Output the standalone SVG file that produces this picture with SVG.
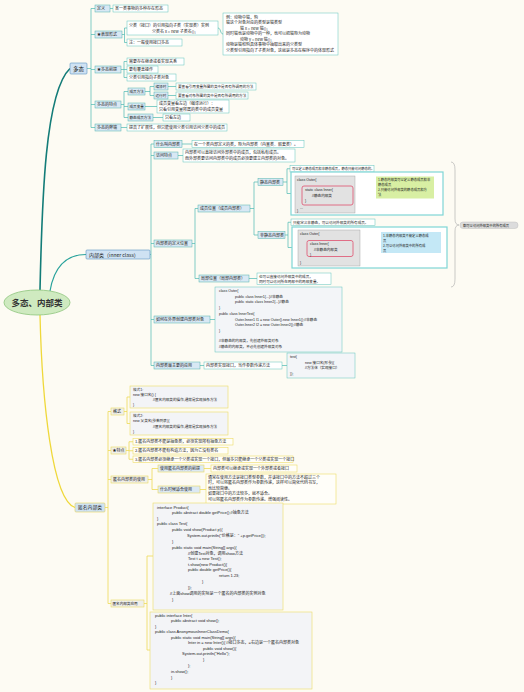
<svg xmlns="http://www.w3.org/2000/svg" width="524" height="692" viewBox="0 0 524 692">
<style>
text{font-family:"Noto Sans CJK SC","Liberation Sans",sans-serif;font-size:4px;fill:#222}
.c{font-family:"Liberation Sans","Noto Sans CJK SC",sans-serif;font-size:4px}
.s{font-size:3.6px}
.xs{font-size:3.3px}
.m{text-anchor:middle}
.n1{fill:#cfe2f3;stroke:#5d93c2;stroke-width:.6}
.n2{fill:#d8e8f4;stroke:#4fb3ad;stroke-width:.5}
.lf{fill:#fff;stroke:#5fc4bd;stroke-width:.5}
.cb{fill:#f3f5f8;stroke:#5fc4bd;stroke-width:.5}
.fr{fill:#fff;stroke:#7fd6d6;stroke-width:1.2}
.gr{fill:#e2e2e2;stroke:#9a9a9a;stroke-width:.4}
.rd{fill:none;stroke:#e0506e;stroke-width:.8}
.y1{fill:#cfe2f3;stroke:#e6d35a;stroke-width:.6}
.y2{fill:#efefeb;stroke:#ecd95e;stroke-width:.6}
.yb{fill:#dce9f4;stroke:#ecd95e;stroke-width:.6}
.yl{fill:#fffef9;stroke:#eedc66;stroke-width:.6}
.yk{fill:#f3f4f7;stroke:#eedc66;stroke-width:.6}
.ct{fill:none;stroke:#4cb9b1;stroke-width:.7}
.cy{fill:none;stroke:#eedb55;stroke-width:.8}
</style>
<defs>
<marker id="ar" viewBox="0 0 6 6" refX="5" refY="3" markerWidth="4" markerHeight="4" orient="auto"><path d="M0,0 L6,3 L0,6 z" fill="#e0506e"/></marker>
</defs>
<rect x="0" y="0" width="524" height="692" fill="#fdfbf3"/>

<g id="connectors">
<path d="M40 290 C42 200 45 92 70 68.5" fill="none" stroke="#137c78" stroke-width="1.6"/>
<path d="M50 291 C54 268 66 254.5 86 254.5" fill="none" stroke="#2aa39c" stroke-width="1.2"/>
<path d="M40 315 C42 400 52 500 75 507.5" fill="none" stroke="#efd83a" stroke-width="1.3"/>
<path class="ct" d="M87 68.5H91 M91 8.5V127.5 M91 8.5H95 M91 34.5H95 M91 69.5H95 M91 104.5H95 M91 127.5H95
M110 8.5H113
M122 34.5H124.5 M124.5 28V42.5 M124.5 28H127 M124.5 42.5H127
M218 28C221 28 220 34 223 34
M121 69.5H124 M124 61.5V77.5 M124 61.5H127 M124 69.5H127 M124 77.5H127
M121 104.5H124 M124 91.5V117.5 M124 91.5H128 M124 106.5H128 M124 117.5H128
M145 91.5H150 M150 86.5V95.5 M150 86.5H154 M150 95.5H154
M168 86.5H176 M168 95.5H176
M145 106.5H157
M153 117.5H163
M121 127.5H127"/>
<path class="ct" d="M150 254.5H151 M151 144V365.5 M151 144H154 M151 155.5H154 M151 243.5H154 M151 319.5H154 M151 365.5H154
M182 144H192
M178 155.5H183
M192 243.5H195 M195 208.5V278.5 M195 208.5H198 M195 278.5H199
M250 208.5H254 M254 182V235 M254 182H258 M254 235H258
M283 182H287 M287 168.75V193.5 M287 168.75H290 M287 193.5H291
M285 235H288 M288 222.25V247.5 M288 222.25H291 M288 247.5H292
M249 278.5H257
M210 319.5H215
M200 365.5H204 M282 365.5H287"/>
<path class="cy" d="M105 507.5H108 M108 411.5V603.5 M108 411.5H111 M108 450.5H111 M108 479.5H111 M108 603.5H111
M124 411.5H127 M127 397V423.5 M127 397H130 M127 423.5H130
M126 450.5H129 M129 441.75V459.25 M129 441.75H133 M129 450.75H133 M129 459.25H133
M148 479.5H152 M152 468.5V489.5 M152 468.5H158 M152 489.5H158
M204 468.5H211 M200 489.5H206
M144 603.5H147 M147 556V650 M147 556H153 M147 650H150"/>
<path class="rd" d="M353 195 C362 196 361 181 371 180" marker-end="url(#ar)"/>
<path class="rd" d="M353 249 C362 250 364 234 376 232" marker-end="url(#ar)"/>
</g>

<g id="root">
<ellipse cx="37" cy="302.5" rx="33" ry="12.5" fill="#cfeac0" stroke="#8cc47a" stroke-width=".8"/>
<text class="m" x="37" y="305.5" style="font-size:8.5px;font-weight:bold;fill:#333">多态、内部类</text>
</g>

<g id="duotai">
<rect class="n1" x="70" y="63" width="17" height="11" rx="1"/>
<text class="m" x="78.5" y="70.8" style="font-size:5.5px">多态</text>
</g>
<g id="dingyi">
<rect class="n2" x="95" y="5" width="15" height="7"/><text x="97" y="10">定义</text>
<rect class="lf" x="113" y="5" width="55" height="7"/><text x="115" y="10">某一类事物的多种存在形态</text>
</g>
<g id="biaoxian">
<rect class="n2" x="95" y="31" width="27" height="7"/><text x="97" y="36">★表现形式</text>
<rect class="lf" x="127" y="21" width="91" height="14"/>
<text x="129" y="26.5">父类（接口）的引用指向子类（实现类）实例</text>
<text x="152" y="32.5">父类名 x = new 子类名();</text>
<rect class="lf" x="127" y="39" width="55" height="7"/><text x="129" y="44">注：一般使用接口多态</text>
<rect class="lf" x="223" y="13" width="115" height="42"/>
<text x="226" y="18.5">例：动物中猫，狗</text>
<text x="226" y="24">猫这个对象对应的类型是猫类型</text>
<text x="240" y="29.5">猫 x = new 猫();</text>
<text x="226" y="35">同时猫也是动物中的一种，也可以把猫称为动物</text>
<text x="240" y="40.5">动物 y = new 猫();</text>
<text x="226" y="46">动物是猫和狗具体事物中抽取出来的父类型</text>
<text x="226" y="51.5">父类型引用指向了子类对象，这就是多态在程序中的体现形式</text>
</g>
<g id="qianti">
<rect class="n2" x="95" y="66" width="26" height="7"/><text x="97" y="71">★多态前提</text>
<rect class="lf" x="127" y="58" width="57" height="7"/><text x="129" y="63">需要存在继承或者实现关系</text>
<rect class="lf" x="127" y="66" width="31" height="7"/><text x="129" y="71">要有覆盖操作</text>
<rect class="lf" x="127" y="74" width="49" height="7"/><text x="129" y="79">父类引用指向子类对象</text>
</g>
<g id="tedian">
<rect class="n2" x="95" y="101" width="26" height="7"/><text x="97" y="106">多态的特点</text>
<rect class="n2" x="128" y="88" width="17" height="7"/><text class="s" x="129.5" y="92.8">成员方法</text>
<rect class="n2" x="154" y="83" width="14" height="7"/><text class="s" x="155.5" y="87.8">编译时</text>
<rect class="n2" x="154" y="92" width="14" height="7"/><text class="s" x="155.5" y="96.8">运行时</text>
<rect class="lf" x="176" y="83" width="80" height="7"/><text class="s" x="178" y="87.8">要查看引用变量所属的类中是否有所调用的方法</text>
<rect class="lf" x="176" y="92" width="72" height="7"/><text class="s" x="178" y="96.8">要查看对象所属的类中是否有所调用的方法</text>
<rect class="n2" x="128" y="103" width="17" height="7"/><text class="s" x="129.5" y="107.8">成员变量</text>
<rect class="lf" x="157" y="100" width="72" height="13"/>
<text x="159" y="105">成员变量看左边（编译运行）：</text>
<text x="159" y="110.5">只看引用变量所属的类中的成员变量</text>
<rect class="n2" x="128" y="114" width="25" height="7"/><text class="s" x="129.5" y="118.8">静态成员方法</text>
<rect class="lf" x="163" y="114" width="27" height="7"/><text x="165" y="119">只看左边</text>
</g>
<g id="bingduan">
<rect class="n2" x="95" y="124" width="26" height="7"/><text x="97" y="129">多态的弊端</text>
<rect class="lf" x="127" y="124" width="100" height="7"/><text x="129" y="129">提高了扩展性，但只能使用父类引用访问父类中的成员</text>
</g>

<g id="neibulei">
<rect class="n1" x="86" y="250" width="64" height="9" rx="1"/>
<text x="89" y="256.5" style="font-size:5px">内部类（inner class）</text>
</g>
<g id="shenme">
<rect class="n2" x="154" y="140.5" width="28" height="7"/><text x="156" y="145.5">什么叫内部类</text>
<rect class="lf" x="192" y="140.5" width="112" height="7"/><text x="194" y="145.5">在一个类内部定义的类，称为内部类（内置类、嵌套类）。</text>
</g>
<g id="fangwen">
<rect class="n2" x="154" y="152" width="24" height="7"/><text x="156" y="157">访问特点</text>
<rect class="lf" x="183" y="149" width="112" height="13"/>
<text x="185" y="154">内部类可以直接访问外部类中的成员，包括私有成员。</text>
<text x="185" y="159.5">而外部类要访问内部类中的成员必须要建立内部类的对象。</text>
</g>
<g id="weizhi">
<rect class="n2" x="154" y="240" width="38" height="7"/><text x="156" y="245">内部类的定义位置</text>
</g>
<g id="chengyuan">
<rect class="n2" x="198" y="205" width="52" height="7"/><text x="200" y="210">成员位置（成员内部类）</text>
</g>
<g id="jingtai">
<rect class="n2" x="258" y="178.5" width="25" height="7"/><text x="260" y="183.5">静态内部类</text>
<rect class="lf" x="290" y="165.5" width="84" height="6.5"/><text class="xs" x="292" y="170">可以定义静态成员和非静态成员，静态只能访问静态的。</text>
<rect class="fr" x="291" y="172" width="152" height="43"/>
<rect class="gr" x="295" y="176" width="60" height="37"/>
<text class="c s" x="297" y="181">class Outer{</text>
<rect class="rd" x="302" y="186" width="51" height="19" rx="2"/>
<text class="c s" x="305" y="191">static class Inner{</text>
<text class="c s" x="312" y="196.5">//静态内部类</text>
<text class="c s" x="305" y="202">}</text>
<text class="c s" x="300" y="208.5">...</text>
<text class="c s" x="297" y="212">}</text>
<rect x="376" y="176.5" width="58" height="22" fill="#d8efa3"/>
<text class="xs" x="378" y="181">1.静态内部类可以定义静态成员和非</text>
<text class="xs" x="378" y="186">静态成员</text>
<text class="xs" x="378" y="191">2.只能访问外部类的静态成员和方</text>
<text class="xs" x="378" y="196">法</text>
</g>
<g id="feijingtai">
<rect class="n2" x="258" y="231.5" width="27" height="7"/><text x="260" y="236.5">非静态内部类</text>
<rect class="lf" x="291" y="219" width="84" height="6.5"/><text class="s" x="293" y="223.6">只能定义非静态，可以访问外部类的所有成员。</text>
<rect class="fr" x="292" y="227" width="155" height="41"/>
<rect class="gr" x="298" y="230" width="62" height="36"/>
<text class="c s" x="300" y="235">class Outer{</text>
<rect class="rd" x="307" y="240.5" width="46" height="16" rx="2"/>
<text class="c s" x="310" y="245">class Inner{</text>
<text class="c s" x="314" y="250.5">//非静态内部类</text>
<text class="c s" x="310" y="255.5">}</text>
<text class="c s" x="300" y="263.5">}</text>
<rect x="381" y="232" width="60" height="21" fill="#c4e8f6"/>
<text class="xs" x="383" y="236.5">1.非静态内部类不能定义静态成</text>
<text class="xs" x="383" y="241.5">员</text>
<text class="xs" x="383" y="246.5">2.可以访问外部类中的所有成</text>
<text class="xs" x="383" y="251.5">员</text>
</g>
<g id="summary">
<path d="M451 162 Q455 162 455 170 L455 219 Q455 225 459 225 Q455 225 455 231 L455 279 Q455 287 451 287" fill="none" stroke="#aaa" stroke-width=".6"/>
<rect x="460" y="222" width="58" height="6.5" rx="3" fill="#dcdcdc" stroke="#b5b5b5" stroke-width=".4"/>
<text class="xs" x="463" y="226.6">都可以访问外部类中的所有成员</text>
</g>
<g id="jubu">
<rect class="n2" x="199" y="275" width="50" height="7"/><text x="201" y="280">局部位置（局部内部类）</text>
<rect class="lf" x="257" y="273" width="74" height="11.5"/>
<text class="s" x="259" y="277.5">也可以直接访问外部类中的成员，</text>
<text class="s" x="259" y="282.5">同时可以访问所在局部中的局部变量。</text>
</g>
<g id="chuangjian">
<rect class="n2" x="154" y="316" width="56" height="7"/><text x="156" y="321">如何在外界创建内部类对象</text>
<rect class="cb" x="215" y="287" width="127" height="65"/>
<text class="c s" x="219" y="291.5">class Outer{</text>
<text class="c s" x="235" y="297.5">public class Inner1{...}//非静态</text>
<text class="c s" x="235" y="303">public static class Inner2{...}//静态</text>
<text class="c s" x="219" y="308.5">}</text>
<text class="c s" x="219" y="314.5">public class InnerTest{</text>
<text class="c s" x="235" y="320.5">Outer.Inner1 I1 = new Outer().new Inner1();//非静态</text>
<text class="c s" x="235" y="326">Outer.Inner2 I2 = new Outer.Inner2();//静态</text>
<text class="c s" x="219" y="332">}</text>
<text class="c s" x="219" y="342">//非静态的内部类，先创建外部类对象</text>
<text class="c s" x="219" y="347.5">//静态的内部类，不必先创建外部类对象</text>
</g>
<g id="yingyong">
<rect class="n2" x="154" y="362" width="46" height="7"/><text x="156" y="367">内部类最主要的应用</text>
<rect class="lf" x="204" y="362" width="78" height="7"/><text x="206" y="367">内部类实现接口，当作参数传递方法</text>
<rect class="cb" x="287" y="353" width="68" height="25"/>
<text class="c s" x="290" y="358">test(</text>
<text class="c s" x="305" y="363.5">new 接口名(形参){</text>
<text class="c s" x="305" y="369">//方法体（实现接口）</text>
<text class="c s" x="290" y="375">});</text>
</g>

<g id="niming">
<rect class="y1" x="75" y="503" width="30" height="9" rx="1"/>
<text x="78" y="509.3" style="font-size:4.8px">匿名内部类</text>
</g>
<g id="geshi">
<rect class="y2" x="111" y="408" width="13" height="7"/><text x="113" y="413">格式</text>
<rect class="yk" x="130" y="386" width="98" height="22"/>
<text class="c s" x="133" y="390.5">格式1:</text>
<text class="c s" x="133" y="395.5">new 接口名() {</text>
<text class="c s" x="153" y="401">//匿名内部类的操作,通常是实现抽象方法</text>
<text class="c s" x="133" y="406">}</text>
<rect class="yk" x="130" y="412" width="98" height="23"/>
<text class="c s" x="133" y="416.5">格式2:</text>
<text class="c s" x="133" y="422">new 父类名(参数列表){</text>
<text class="c s" x="153" y="427.5">//匿名内部类的操作,通常是实现抽象方法</text>
<text class="c s" x="133" y="433">}</text>
</g>
<g id="tedian2">
<rect class="y2" x="111" y="447" width="15" height="7"/><text x="112.5" y="452">★特点</text>
<rect class="yl" x="133" y="438.5" width="100" height="6.5"/><text x="135" y="443.2">1.匿名内部类不能是抽象类，必须实现所有抽象方法</text>
<rect class="yl" x="133" y="447.5" width="95" height="6.5"/><text x="135" y="452.2">2.匿名内部类不能有构造方法，因为它没有类名</text>
<rect class="yl" x="133" y="456" width="160" height="6.5"/><text x="135" y="460.7">3.匿名内部类必须继承一个父类或实现一个接口，但最多只能继承一个父类或实现一个接口</text>
</g>
<g id="shiyong">
<rect class="y2" x="111" y="476" width="37" height="7"/><text x="113" y="481">匿名内部类的使用</text>
<rect class="yb" x="158" y="465" width="46" height="7"/><text x="160" y="470">使用匿名内部类的前提</text>
<rect class="yl" x="211" y="465" width="86" height="7"/><text x="213" y="470">内部类可以继承或实现一个外部类或者接口</text>
<rect class="yb" x="158" y="486" width="42" height="7"/><text x="160" y="491">什么时候适合使用</text>
<rect class="yl" x="206" y="474" width="130" height="30"/>
<text x="208" y="478.8">通常在使用方法是接口类型参数，并该接口中的方法不超过三个</text>
<text x="208" y="484.3">时，可以将匿名内部类作为参数传递，这样可以简化代码书写，</text>
<text x="208" y="489.8">也比较简便。</text>
<text x="208" y="495.3">如果接口中的方法较多，就不适合。</text>
<text x="208" y="500.8">可以将匿名内部类作为参数传递。增强阅读性。</text>
</g>
<g id="juli">
<rect class="y2" x="111" y="600" width="33" height="7"/><text class="s" x="112.5" y="604.8">匿名内部类应用</text>
<rect class="yk" x="153" y="503" width="130" height="107"/>
<text class="c" x="157" y="508.5">interface Product{</text>
<text class="c" x="172" y="514">public abstract double getPrice();//抽象方法</text>
<text class="c" x="157" y="519.5">}</text>
<text class="c" x="157" y="525">public class Test{</text>
<text class="c" x="172" y="531">public void show(Product p){</text>
<text class="c" x="187" y="537">System.out.println("价格是：" +p.getPrice());</text>
<text class="c" x="172" y="543">}</text>
<text class="c" x="172" y="549">public static void main(String[] args){</text>
<text class="c" x="188" y="554.5">//创建Test对象，调用show方法</text>
<text class="c" x="188" y="560">Test t = new Test();</text>
<text class="c" x="188" y="565.5">t.show(new Product(){</text>
<text class="c" x="188" y="571">public double getPrice(){</text>
<text class="c" x="219" y="577">return 1.23;</text>
<text class="c" x="202" y="583">}</text>
<text class="c" x="188" y="589">});</text>
<text class="c" x="170" y="594.5">//上面show调用的实际是一个匿名的内部类的实例对象</text>
<text class="c" x="172" y="600.5">}</text>
<rect class="yk" x="150" y="612" width="162" height="77"/>
<text class="c" x="155" y="616.5">public interface Inter{</text>
<text class="c" x="171" y="622">public abstract void show();</text>
<text class="c" x="155" y="627.5">}</text>
<text class="c" x="155" y="633">public class AnonymousInnerClassDemo{</text>
<text class="c" x="171" y="638.5">public static void main(String[] args){</text>
<text class="c" x="188" y="644">Inter in = new Inter(){ //接口多态，=右边是一个匿名内部类对象</text>
<text class="c" x="203" y="649.5">public void show(){</text>
<text class="c" x="182" y="655">System.out.println("Hello");</text>
<text class="c" x="203" y="661">}</text>
<text class="c" x="188" y="667">};</text>
<text class="c" x="171" y="673">in.show();</text>
<text class="c" x="171" y="678.5">}</text>
<text class="c" x="155" y="684">}</text>
</g>
</svg>
